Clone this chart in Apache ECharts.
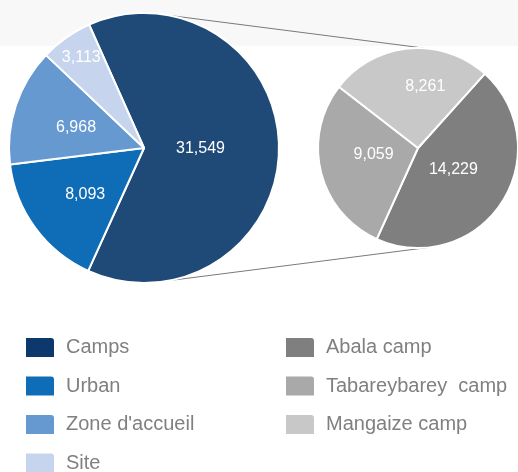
<!DOCTYPE html>
<html>
<head>
<meta charset="utf-8">
<script src="https://cdn.jsdelivr.net/npm/echarts@6/dist/echarts.min.js"></script>
<style>
  html, body { margin: 0; padding: 0; background: #fff; }
  #main { width: 518px; height: 472px; }
</style>
</head>
<body>
<div id="main"></div>
<script>
"use strict";

// left pie: all refugees by settlement type
const typeNames = ["Camps", "Urban", "Zone d'accueil", "Site"];
const typeValues = [31549, 8093, 6968, 3113];
const typeColors = ['#1f4a78', '#0f6cb6', '#6699d0', '#c6d5ed'];

// right pie: breakdown of the camps
const campNames = ["Abala camp", "Tabareybarey  camp", "Mangaize camp"];
const campValues = [14229, 9059, 8261];
const campColors = ['#7f7f7f', '#a9a9a9', '#c8c8c8'];

let myChart = echarts.init(document.getElementById('main'));

const leftC = [144, 148], leftR = 135;
const rightC = [418, 148], rightR = 100;

// point on a circle, angle in degrees clockwise from 12 o'clock
function onCircle(c, r, deg) {
  let a = deg * Math.PI / 180;
  return [c[0] + r * Math.sin(a), c[1] - r * Math.cos(a)];
}

let lt = onCircle(leftC, leftR, 11), rt = onCircle(rightC, rightR, 4);
let lb = onCircle(leftC, leftR, 169), rb = onCircle(rightC, rightR, 172);

const iconPath = 'path://M0,0L26,0Q30,0 30,4L30,21L0,21Z';

// label nudges, to sit like the original
const typeLabelShift = [[-14, 0], [-2, 5], [-1, 2], [-22, -33]];
const campLabelShift = [[-9, -7], [7, -6], [12, -9]];

let labelFmt = function (p) {
  return echarts.format.addCommas(p.value);
};

let legendText = {
  fontFamily: 'Liberation Sans, Arial, sans-serif',
  fontSize: 20,
  color: '#808080',
  padding: [0, 0, 0, 6],
};

let pieLabel = {
  position: 'inside',
  formatter: labelFmt,
  color: '#fff',
  fontFamily: 'Liberation Sans, Arial, sans-serif',
  fontSize: 16,
};

// horizontal legends kept narrow so every item wraps onto its own row
let option = {
  animation: false,
  graphic: [
    {
      type: 'rect',
      z: -10,
      shape: { x: 0, y: 0, width: 518, height: 46 },
      style: { fill: '#f8f8f8' },
    },
    {
      type: 'line',
      z: 1,
      shape: { x1: lt[0], y1: lt[1], x2: rt[0], y2: rt[1] },
      style: { stroke: '#7a7a7a', lineWidth: 1 },
    },
    {
      type: 'line',
      z: 1,
      shape: { x1: lb[0], y1: lb[1], x2: rb[0], y2: rb[1] },
      style: { stroke: '#7a7a7a', lineWidth: 1 },
    },
  ],
  legend: [
    {
      orient: 'horizontal',
      left: 24,
      top: 336,
      width: 150,
      padding: 0,
      itemWidth: 30,
      itemHeight: 21,
      itemGap: 15.5,
      icon: iconPath,
      selectedMode: false,
      textStyle: legendText,
      data: typeNames.map((n, i) => ({
        name: n,
        itemStyle: { color: i === 0 ? '#0c386e' : typeColors[i] },
      })),
    },
    {
      orient: 'horizontal',
      left: 284,
      top: 336,
      width: 150,
      padding: 0,
      itemWidth: 30,
      itemHeight: 21,
      itemGap: 15.5,
      icon: iconPath,
      selectedMode: false,
      textStyle: legendText,
      data: campNames,
    },
  ],
  series: [
    {
      name: 'type',
      type: 'pie',
      center: leftC,
      radius: [0, leftR],
      startAngle: 114,
      clockwise: true,
      color: typeColors,
      itemStyle: { borderColor: '#fff', borderWidth: 2 },
      label: pieLabel,
      emphasis: { disabled: true },
      data: typeNames.map((n, i) => ({
        name: n,
        value: typeValues[i],
        label: { offset: typeLabelShift[i] },
      })),
    },
    {
      name: 'camps',
      type: 'pie',
      center: rightC,
      radius: [0, rightR],
      startAngle: 48,
      clockwise: true,
      color: campColors,
      itemStyle: { borderColor: '#fff', borderWidth: 2 },
      label: pieLabel,
      emphasis: { disabled: true },
      data: campNames.map((n, i) => ({
        name: n,
        value: campValues[i],
        label: { offset: campLabelShift[i] },
      })),
    },
  ],
};

myChart.setOption(option);
</script>
</body>
</html>
